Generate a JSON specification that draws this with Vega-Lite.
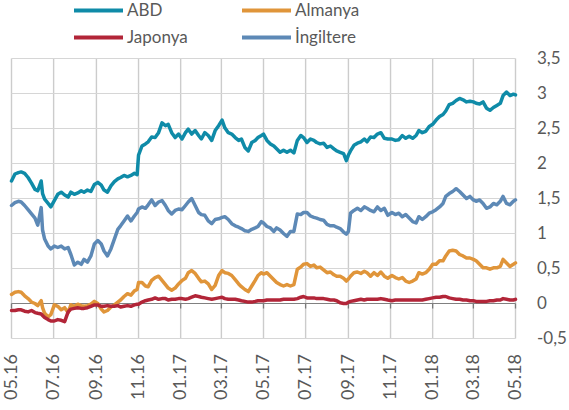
{
 "$schema": "https://vega.github.io/schema/vega-lite/v6.json",
 "width": 504,
 "height": 280,
 "autosize": {"type": "none"},
 "padding": {"left": 11.5, "top": 58.5, "right": 53.5, "bottom": 71.5},
 "background": "white",
 "config": {"view": {"stroke": null}, "font": "Lato",
  "locale": {"number": {"decimal": ",", "thousands": ".", "grouping": [3], "currency": ["", ""], "minus": "-"}}},
 "datasets": {
  "izgaraX": [{"t":"2016-05-10"},{"t":"2016-07-10"},{"t":"2016-09-10"},{"t":"2016-11-10"},{"t":"2017-01-10"},{"t":"2017-03-10"},{"t":"2017-05-10"},{"t":"2017-07-10"},{"t":"2017-09-10"},{"t":"2017-11-10"},{"t":"2018-01-10"},{"t":"2018-03-10"},{"t":"2018-05-10"}],
  "izgaraY": [{"g":-0.5},{"g":0},{"g":0.5},{"g":1},{"g":1.5},{"g":2},{"g":2.5},{"g":3},{"g":3.5}],
  "sifir": [{"g":0}],
  "seriler": [
  {"d":"2016-05-10","ABD":1.75,"Almanya":0.13,"Japonya":-0.10,"İngiltere":1.40},
  {"d":"2016-05-15","ABD":1.85,"Almanya":0.16,"Japonya":-0.10,"İngiltere":1.44},
  {"d":"2016-05-20","ABD":1.87,"Almanya":0.17,"Japonya":-0.09,"İngiltere":1.46},
  {"d":"2016-05-24","ABD":1.88,"Almanya":0.16,"Japonya":-0.09,"İngiltere":1.45},
  {"d":"2016-05-29","ABD":1.86,"Almanya":0.11,"Japonya":-0.11,"İngiltere":1.40},
  {"d":"2016-06-03","ABD":1.80,"Almanya":0.07,"Japonya":-0.12,"İngiltere":1.34},
  {"d":"2016-06-08","ABD":1.72,"Almanya":0.02,"Japonya":-0.10,"İngiltere":1.28},
  {"d":"2016-06-13","ABD":1.63,"Almanya":0.00,"Japonya":-0.13,"İngiltere":1.22},
  {"d":"2016-06-17","ABD":1.61,"Almanya":-0.03,"Japonya":-0.14,"İngiltere":1.12},
  {"d":"2016-06-22","ABD":1.75,"Almanya":0.04,"Japonya":-0.15,"İngiltere":1.37},
  {"d":"2016-06-24","ABD":1.57,"Almanya":-0.06,"Japonya":-0.17,"İngiltere":1.05},
  {"d":"2016-06-27","ABD":1.49,"Almanya":-0.14,"Japonya":-0.20,"İngiltere":0.92},
  {"d":"2016-07-02","ABD":1.43,"Almanya":-0.19,"Japonya":-0.23,"İngiltere":0.82},
  {"d":"2016-07-06","ABD":1.38,"Almanya":-0.16,"Japonya":-0.25,"İngiltere":0.78},
  {"d":"2016-07-11","ABD":1.47,"Almanya":-0.02,"Japonya":-0.25,"İngiltere":0.82},
  {"d":"2016-07-16","ABD":1.56,"Almanya":-0.04,"Japonya":-0.23,"İngiltere":0.80},
  {"d":"2016-07-21","ABD":1.59,"Almanya":-0.09,"Japonya":-0.24,"İngiltere":0.82},
  {"d":"2016-07-26","ABD":1.55,"Almanya":-0.06,"Japonya":-0.26,"İngiltere":0.78},
  {"d":"2016-07-31","ABD":1.52,"Almanya":-0.13,"Japonya":-0.12,"İngiltere":0.80},
  {"d":"2016-08-04","ABD":1.59,"Almanya":-0.02,"Japonya":-0.08,"İngiltere":0.70},
  {"d":"2016-08-09","ABD":1.56,"Almanya":-0.04,"Japonya":-0.07,"İngiltere":0.55},
  {"d":"2016-08-14","ABD":1.58,"Almanya":-0.01,"Japonya":-0.06,"İngiltere":0.59},
  {"d":"2016-08-19","ABD":1.61,"Almanya":-0.03,"Japonya":-0.07,"İngiltere":0.56},
  {"d":"2016-08-23","ABD":1.59,"Almanya":-0.04,"Japonya":-0.07,"İngiltere":0.63},
  {"d":"2016-08-28","ABD":1.62,"Almanya":-0.03,"Japonya":-0.06,"İngiltere":0.59},
  {"d":"2016-09-02","ABD":1.60,"Almanya":-0.01,"Japonya":-0.04,"İngiltere":0.68},
  {"d":"2016-09-07","ABD":1.70,"Almanya":0.03,"Japonya":-0.02,"İngiltere":0.85},
  {"d":"2016-09-12","ABD":1.73,"Almanya":0.00,"Japonya":-0.02,"İngiltere":0.90},
  {"d":"2016-09-17","ABD":1.69,"Almanya":-0.08,"Japonya":-0.04,"İngiltere":0.85},
  {"d":"2016-09-21","ABD":1.62,"Almanya":-0.12,"Japonya":-0.04,"İngiltere":0.75},
  {"d":"2016-09-26","ABD":1.59,"Almanya":-0.10,"Japonya":-0.03,"İngiltere":0.68},
  {"d":"2016-10-01","ABD":1.68,"Almanya":-0.05,"Japonya":-0.04,"İngiltere":0.78},
  {"d":"2016-10-06","ABD":1.74,"Almanya":-0.02,"Japonya":-0.04,"İngiltere":0.92},
  {"d":"2016-10-11","ABD":1.78,"Almanya":0.02,"Japonya":-0.03,"İngiltere":1.06},
  {"d":"2016-10-15","ABD":1.80,"Almanya":0.05,"Japonya":-0.05,"İngiltere":1.11},
  {"d":"2016-10-20","ABD":1.83,"Almanya":0.10,"Japonya":-0.04,"İngiltere":1.18},
  {"d":"2016-10-25","ABD":1.81,"Almanya":0.14,"Japonya":-0.03,"İngiltere":1.25},
  {"d":"2016-10-30","ABD":1.83,"Almanya":0.12,"Japonya":-0.04,"İngiltere":1.18},
  {"d":"2016-11-04","ABD":1.86,"Almanya":0.18,"Japonya":-0.02,"İngiltere":1.25},
  {"d":"2016-11-08","ABD":1.84,"Almanya":0.20,"Japonya":-0.01,"İngiltere":1.30},
  {"d":"2016-11-10","ABD":2.12,"Almanya":0.30,"Japonya":-0.01,"İngiltere":1.35},
  {"d":"2016-11-15","ABD":2.25,"Almanya":0.30,"Japonya":0.02,"İngiltere":1.38},
  {"d":"2016-11-20","ABD":2.28,"Almanya":0.25,"Japonya":0.04,"İngiltere":1.36},
  {"d":"2016-11-24","ABD":2.31,"Almanya":0.24,"Japonya":0.05,"İngiltere":1.41},
  {"d":"2016-11-29","ABD":2.38,"Almanya":0.33,"Japonya":0.06,"İngiltere":1.48},
  {"d":"2016-12-04","ABD":2.37,"Almanya":0.37,"Japonya":0.08,"İngiltere":1.40},
  {"d":"2016-12-09","ABD":2.44,"Almanya":0.39,"Japonya":0.06,"İngiltere":1.45},
  {"d":"2016-12-14","ABD":2.58,"Almanya":0.33,"Japonya":0.07,"İngiltere":1.47},
  {"d":"2016-12-19","ABD":2.54,"Almanya":0.27,"Japonya":0.07,"İngiltere":1.40},
  {"d":"2016-12-23","ABD":2.56,"Almanya":0.22,"Japonya":0.05,"İngiltere":1.33},
  {"d":"2016-12-28","ABD":2.44,"Almanya":0.19,"Japonya":0.06,"İngiltere":1.28},
  {"d":"2017-01-02","ABD":2.37,"Almanya":0.22,"Japonya":0.06,"İngiltere":1.33},
  {"d":"2017-01-07","ABD":2.42,"Almanya":0.28,"Japonya":0.07,"İngiltere":1.35},
  {"d":"2017-01-12","ABD":2.35,"Almanya":0.33,"Japonya":0.07,"İngiltere":1.34},
  {"d":"2017-01-17","ABD":2.44,"Almanya":0.36,"Japonya":0.06,"İngiltere":1.40},
  {"d":"2017-01-21","ABD":2.49,"Almanya":0.44,"Japonya":0.07,"İngiltere":1.45},
  {"d":"2017-01-26","ABD":2.42,"Almanya":0.47,"Japonya":0.09,"İngiltere":1.50},
  {"d":"2017-01-31","ABD":2.47,"Almanya":0.43,"Japonya":0.11,"İngiltere":1.40},
  {"d":"2017-02-05","ABD":2.40,"Almanya":0.36,"Japonya":0.10,"İngiltere":1.30},
  {"d":"2017-02-09","ABD":2.35,"Almanya":0.31,"Japonya":0.09,"İngiltere":1.27},
  {"d":"2017-02-14","ABD":2.44,"Almanya":0.32,"Japonya":0.08,"İngiltere":1.26},
  {"d":"2017-02-19","ABD":2.40,"Almanya":0.28,"Japonya":0.07,"İngiltere":1.18},
  {"d":"2017-02-24","ABD":2.33,"Almanya":0.20,"Japonya":0.06,"İngiltere":1.14},
  {"d":"2017-03-01","ABD":2.47,"Almanya":0.26,"Japonya":0.07,"İngiltere":1.20},
  {"d":"2017-03-06","ABD":2.54,"Almanya":0.40,"Japonya":0.08,"İngiltere":1.21},
  {"d":"2017-03-11","ABD":2.62,"Almanya":0.47,"Japonya":0.09,"İngiltere":1.23},
  {"d":"2017-03-15","ABD":2.51,"Almanya":0.44,"Japonya":0.07,"İngiltere":1.24},
  {"d":"2017-03-20","ABD":2.44,"Almanya":0.43,"Japonya":0.06,"İngiltere":1.20},
  {"d":"2017-03-25","ABD":2.42,"Almanya":0.40,"Japonya":0.06,"İngiltere":1.14},
  {"d":"2017-03-30","ABD":2.37,"Almanya":0.34,"Japonya":0.06,"İngiltere":1.11},
  {"d":"2017-04-04","ABD":2.33,"Almanya":0.28,"Japonya":0.05,"İngiltere":1.09},
  {"d":"2017-04-08","ABD":2.35,"Almanya":0.24,"Japonya":0.04,"İngiltere":1.07},
  {"d":"2017-04-13","ABD":2.23,"Almanya":0.20,"Japonya":0.03,"İngiltere":1.04},
  {"d":"2017-04-18","ABD":2.18,"Almanya":0.17,"Japonya":0.02,"İngiltere":1.03},
  {"d":"2017-04-23","ABD":2.30,"Almanya":0.25,"Japonya":0.02,"İngiltere":1.06},
  {"d":"2017-04-28","ABD":2.33,"Almanya":0.33,"Japonya":0.03,"İngiltere":1.08},
  {"d":"2017-05-02","ABD":2.37,"Almanya":0.40,"Japonya":0.04,"İngiltere":1.10},
  {"d":"2017-05-07","ABD":2.40,"Almanya":0.44,"Japonya":0.04,"İngiltere":1.17},
  {"d":"2017-05-10","ABD":2.42,"Almanya":0.42,"Japonya":0.04,"İngiltere":1.15},
  {"d":"2017-05-15","ABD":2.33,"Almanya":0.44,"Japonya":0.05,"İngiltere":1.10},
  {"d":"2017-05-20","ABD":2.28,"Almanya":0.39,"Japonya":0.05,"İngiltere":1.08},
  {"d":"2017-05-25","ABD":2.25,"Almanya":0.34,"Japonya":0.05,"İngiltere":1.03},
  {"d":"2017-05-29","ABD":2.21,"Almanya":0.30,"Japonya":0.05,"İngiltere":1.08},
  {"d":"2017-06-03","ABD":2.16,"Almanya":0.27,"Japonya":0.05,"İngiltere":1.05},
  {"d":"2017-06-08","ABD":2.19,"Almanya":0.25,"Japonya":0.06,"İngiltere":1.00},
  {"d":"2017-06-13","ABD":2.16,"Almanya":0.27,"Japonya":0.06,"İngiltere":0.96},
  {"d":"2017-06-18","ABD":2.19,"Almanya":0.25,"Japonya":0.06,"İngiltere":1.03},
  {"d":"2017-06-23","ABD":2.15,"Almanya":0.27,"Japonya":0.06,"İngiltere":1.03},
  {"d":"2017-06-28","ABD":2.33,"Almanya":0.49,"Japonya":0.07,"İngiltere":1.28},
  {"d":"2017-07-03","ABD":2.40,"Almanya":0.52,"Japonya":0.09,"İngiltere":1.27},
  {"d":"2017-07-07","ABD":2.37,"Almanya":0.56,"Japonya":0.10,"İngiltere":1.30},
  {"d":"2017-07-12","ABD":2.30,"Almanya":0.57,"Japonya":0.08,"İngiltere":1.30},
  {"d":"2017-07-17","ABD":2.35,"Almanya":0.53,"Japonya":0.08,"İngiltere":1.25},
  {"d":"2017-07-22","ABD":2.33,"Almanya":0.55,"Japonya":0.08,"İngiltere":1.23},
  {"d":"2017-07-26","ABD":2.30,"Almanya":0.51,"Japonya":0.07,"İngiltere":1.22},
  {"d":"2017-07-31","ABD":2.28,"Almanya":0.52,"Japonya":0.07,"İngiltere":1.20},
  {"d":"2017-08-05","ABD":2.29,"Almanya":0.48,"Japonya":0.07,"İngiltere":1.19},
  {"d":"2017-08-10","ABD":2.23,"Almanya":0.44,"Japonya":0.06,"İngiltere":1.13},
  {"d":"2017-08-15","ABD":2.25,"Almanya":0.45,"Japonya":0.05,"İngiltere":1.11},
  {"d":"2017-08-20","ABD":2.21,"Almanya":0.41,"Japonya":0.05,"İngiltere":1.11},
  {"d":"2017-08-24","ABD":2.18,"Almanya":0.39,"Japonya":0.04,"İngiltere":1.09},
  {"d":"2017-08-29","ABD":2.16,"Almanya":0.39,"Japonya":0.01,"İngiltere":1.07},
  {"d":"2017-09-03","ABD":2.14,"Almanya":0.36,"Japonya":0.00,"İngiltere":1.02},
  {"d":"2017-09-07","ABD":2.04,"Almanya":0.32,"Japonya":0.00,"İngiltere":0.99},
  {"d":"2017-09-10","ABD":2.12,"Almanya":0.35,"Japonya":0.02,"İngiltere":1.03},
  {"d":"2017-09-13","ABD":2.18,"Almanya":0.39,"Japonya":0.03,"İngiltere":1.29},
  {"d":"2017-09-18","ABD":2.26,"Almanya":0.44,"Japonya":0.04,"İngiltere":1.33},
  {"d":"2017-09-23","ABD":2.29,"Almanya":0.45,"Japonya":0.05,"İngiltere":1.36},
  {"d":"2017-09-28","ABD":2.31,"Almanya":0.43,"Japonya":0.06,"İngiltere":1.33},
  {"d":"2017-10-03","ABD":2.35,"Almanya":0.46,"Japonya":0.05,"İngiltere":1.38},
  {"d":"2017-10-07","ABD":2.31,"Almanya":0.44,"Japonya":0.06,"İngiltere":1.36},
  {"d":"2017-10-12","ABD":2.38,"Almanya":0.39,"Japonya":0.06,"İngiltere":1.33},
  {"d":"2017-10-17","ABD":2.37,"Almanya":0.44,"Japonya":0.06,"İngiltere":1.31},
  {"d":"2017-10-22","ABD":2.42,"Almanya":0.40,"Japonya":0.06,"İngiltere":1.38},
  {"d":"2017-10-27","ABD":2.44,"Almanya":0.45,"Japonya":0.07,"İngiltere":1.33},
  {"d":"2017-11-01","ABD":2.36,"Almanya":0.39,"Japonya":0.06,"İngiltere":1.36},
  {"d":"2017-11-06","ABD":2.35,"Almanya":0.36,"Japonya":0.05,"İngiltere":1.26},
  {"d":"2017-11-12","ABD":2.35,"Almanya":0.40,"Japonya":0.04,"İngiltere":1.30},
  {"d":"2017-11-17","ABD":2.33,"Almanya":0.37,"Japonya":0.05,"İngiltere":1.27},
  {"d":"2017-11-22","ABD":2.34,"Almanya":0.35,"Japonya":0.05,"İngiltere":1.29},
  {"d":"2017-11-27","ABD":2.40,"Almanya":0.37,"Japonya":0.05,"İngiltere":1.24},
  {"d":"2017-12-02","ABD":2.36,"Almanya":0.32,"Japonya":0.05,"İngiltere":1.27},
  {"d":"2017-12-07","ABD":2.39,"Almanya":0.30,"Japonya":0.05,"İngiltere":1.22},
  {"d":"2017-12-12","ABD":2.36,"Almanya":0.32,"Japonya":0.05,"İngiltere":1.17},
  {"d":"2017-12-17","ABD":2.40,"Almanya":0.35,"Japonya":0.05,"İngiltere":1.15},
  {"d":"2017-12-21","ABD":2.47,"Almanya":0.44,"Japonya":0.05,"İngiltere":1.24},
  {"d":"2017-12-26","ABD":2.44,"Almanya":0.42,"Japonya":0.05,"İngiltere":1.20},
  {"d":"2017-12-31","ABD":2.46,"Almanya":0.44,"Japonya":0.06,"İngiltere":1.24},
  {"d":"2018-01-05","ABD":2.53,"Almanya":0.49,"Japonya":0.07,"İngiltere":1.29},
  {"d":"2018-01-10","ABD":2.56,"Almanya":0.56,"Japonya":0.08,"İngiltere":1.31},
  {"d":"2018-01-15","ABD":2.62,"Almanya":0.56,"Japonya":0.09,"İngiltere":1.34},
  {"d":"2018-01-20","ABD":2.67,"Almanya":0.61,"Japonya":0.09,"İngiltere":1.38},
  {"d":"2018-01-25","ABD":2.70,"Almanya":0.61,"Japonya":0.10,"İngiltere":1.43},
  {"d":"2018-01-29","ABD":2.75,"Almanya":0.68,"Japonya":0.10,"İngiltere":1.53},
  {"d":"2018-02-03","ABD":2.84,"Almanya":0.75,"Japonya":0.08,"İngiltere":1.57},
  {"d":"2018-02-08","ABD":2.86,"Almanya":0.76,"Japonya":0.07,"İngiltere":1.60},
  {"d":"2018-02-13","ABD":2.90,"Almanya":0.75,"Japonya":0.06,"İngiltere":1.64},
  {"d":"2018-02-18","ABD":2.93,"Almanya":0.70,"Japonya":0.06,"İngiltere":1.60},
  {"d":"2018-02-23","ABD":2.91,"Almanya":0.68,"Japonya":0.05,"İngiltere":1.55},
  {"d":"2018-02-28","ABD":2.88,"Almanya":0.65,"Japonya":0.05,"İngiltere":1.50},
  {"d":"2018-03-05","ABD":2.89,"Almanya":0.65,"Japonya":0.04,"İngiltere":1.53},
  {"d":"2018-03-10","ABD":2.88,"Almanya":0.63,"Japonya":0.04,"İngiltere":1.48},
  {"d":"2018-03-14","ABD":2.86,"Almanya":0.61,"Japonya":0.03,"İngiltere":1.46},
  {"d":"2018-03-19","ABD":2.85,"Almanya":0.56,"Japonya":0.03,"İngiltere":1.48},
  {"d":"2018-03-24","ABD":2.88,"Almanya":0.51,"Japonya":0.03,"İngiltere":1.43},
  {"d":"2018-03-29","ABD":2.79,"Almanya":0.51,"Japonya":0.03,"İngiltere":1.36},
  {"d":"2018-04-03","ABD":2.76,"Almanya":0.49,"Japonya":0.04,"İngiltere":1.38},
  {"d":"2018-04-08","ABD":2.80,"Almanya":0.51,"Japonya":0.04,"İngiltere":1.43},
  {"d":"2018-04-13","ABD":2.83,"Almanya":0.51,"Japonya":0.05,"İngiltere":1.41},
  {"d":"2018-04-18","ABD":2.86,"Almanya":0.53,"Japonya":0.05,"İngiltere":1.46},
  {"d":"2018-04-22","ABD":2.97,"Almanya":0.63,"Japonya":0.07,"İngiltere":1.53},
  {"d":"2018-04-27","ABD":3.02,"Almanya":0.58,"Japonya":0.06,"İngiltere":1.43},
  {"d":"2018-05-02","ABD":2.97,"Almanya":0.53,"Japonya":0.05,"İngiltere":1.41},
  {"d":"2018-05-07","ABD":2.99,"Almanya":0.56,"Japonya":0.05,"İngiltere":1.46},
  {"d":"2018-05-10","ABD":2.98,"Almanya":0.58,"Japonya":0.06,"İngiltere":1.48}
 ]},
 "layer": [
  {
   "data": {"name": "izgaraX"},
   "mark": {"type": "rule", "color": "#cccccc", "strokeWidth": 1.4},
   "encoding": {
    "x": {"field": "t", "type": "temporal",
     "scale": {"type": "utc", "domain": [{"year": 2016, "month": 5, "date": 10, "utc": true}, {"year": 2018, "month": 5, "date": 10, "utc": true}]},
     "axis": {"title": null, "format": "%m.%y", "labelAngle": -90, "labelFontSize": 18, "labelColor": "#595959", "labelPadding": 15,
      "labelOverlap": false, "ticks": false, "domain": false, "grid": false,
      "values": [
       {"year": 2016, "month": 5, "date": 10, "utc": true}, {"year": 2016, "month": 7, "date": 10, "utc": true},
       {"year": 2016, "month": 9, "date": 10, "utc": true}, {"year": 2016, "month": 11, "date": 10, "utc": true},
       {"year": 2017, "month": 1, "date": 10, "utc": true}, {"year": 2017, "month": 3, "date": 10, "utc": true},
       {"year": 2017, "month": 5, "date": 10, "utc": true}, {"year": 2017, "month": 7, "date": 10, "utc": true},
       {"year": 2017, "month": 9, "date": 10, "utc": true}, {"year": 2017, "month": 11, "date": 10, "utc": true},
       {"year": 2018, "month": 1, "date": 10, "utc": true}, {"year": 2018, "month": 3, "date": 10, "utc": true},
       {"year": 2018, "month": 5, "date": 10, "utc": true}]}}
   }
  },
  {
   "data": {"name": "izgaraY"},
   "mark": {"type": "rule", "color": "#d6d6d6", "strokeWidth": 1.2},
   "encoding": {
    "y": {"field": "g", "type": "quantitative", "scale": {"domain": [-0.5, 3.5], "nice": false, "zero": false},
     "axis": {"title": null, "orient": "right", "values": [-0.5, 0, 0.5, 1, 1.5, 2, 2.5, 3, 3.5], "format": "~r",
      "labelFontSize": 17, "labelColor": "#595959", "labelOverlap": false, "labelPadding": 21,
      "ticks": false, "domain": false, "grid": false}}
   }
  },
  {
   "data": {"name": "izgaraX"},
   "mark": {"type": "tick", "orient": "vertical", "size": 5, "thickness": 1.3, "color": "#7a7a7a", "yOffset": 2.5, "opacity": 1},
   "encoding": {
    "x": {"field": "t", "type": "temporal",
     "axis": {"title": null, "format": "%m.%y", "labelAngle": -90, "labelFontSize": 18, "labelColor": "#595959", "labelPadding": 15,
      "labelOverlap": false, "ticks": false, "domain": false, "grid": false,
      "values": [
       {"year": 2016, "month": 5, "date": 10, "utc": true}, {"year": 2016, "month": 7, "date": 10, "utc": true},
       {"year": 2016, "month": 9, "date": 10, "utc": true}, {"year": 2016, "month": 11, "date": 10, "utc": true},
       {"year": 2017, "month": 1, "date": 10, "utc": true}, {"year": 2017, "month": 3, "date": 10, "utc": true},
       {"year": 2017, "month": 5, "date": 10, "utc": true}, {"year": 2017, "month": 7, "date": 10, "utc": true},
       {"year": 2017, "month": 9, "date": 10, "utc": true}, {"year": 2017, "month": 11, "date": 10, "utc": true},
       {"year": 2018, "month": 1, "date": 10, "utc": true}, {"year": 2018, "month": 3, "date": 10, "utc": true},
       {"year": 2018, "month": 5, "date": 10, "utc": true}]}},
    "y": {"datum": 0, "type": "quantitative",
     "axis": {"title": null, "orient": "right", "values": [-0.5, 0, 0.5, 1, 1.5, 2, 2.5, 3, 3.5], "format": "~r",
      "labelFontSize": 17, "labelColor": "#595959", "labelOverlap": false, "labelPadding": 21,
      "ticks": false, "domain": false, "grid": false}}
   }
  },
  {
   "data": {"name": "sifir"},
   "mark": {"type": "rule", "color": "#808080", "strokeWidth": 1},
   "encoding": {
    "y": {"field": "g", "type": "quantitative",
     "axis": {"title": null, "orient": "right", "values": [-0.5, 0, 0.5, 1, 1.5, 2, 2.5, 3, 3.5], "format": "~r",
      "labelFontSize": 17, "labelColor": "#595959", "labelOverlap": false, "labelPadding": 21,
      "ticks": false, "domain": false, "grid": false}}
   }
  },
  {
   "data": {"name": "seriler"},
   "transform": [{"fold": ["ABD", "Almanya", "Japonya", "İngiltere"], "as": ["seri", "deger"]}],
   "mark": {"type": "line", "strokeWidth": 3.5, "strokeJoin": "round", "strokeCap": "round"},
   "encoding": {
    "x": {"field": "d", "type": "temporal",
     "axis": {"title": null, "format": "%m.%y", "labelAngle": -90, "labelFontSize": 18, "labelColor": "#595959", "labelPadding": 15,
      "labelOverlap": false, "ticks": false, "domain": false, "grid": false,
      "values": [
       {"year": 2016, "month": 5, "date": 10, "utc": true}, {"year": 2016, "month": 7, "date": 10, "utc": true},
       {"year": 2016, "month": 9, "date": 10, "utc": true}, {"year": 2016, "month": 11, "date": 10, "utc": true},
       {"year": 2017, "month": 1, "date": 10, "utc": true}, {"year": 2017, "month": 3, "date": 10, "utc": true},
       {"year": 2017, "month": 5, "date": 10, "utc": true}, {"year": 2017, "month": 7, "date": 10, "utc": true},
       {"year": 2017, "month": 9, "date": 10, "utc": true}, {"year": 2017, "month": 11, "date": 10, "utc": true},
       {"year": 2018, "month": 1, "date": 10, "utc": true}, {"year": 2018, "month": 3, "date": 10, "utc": true},
       {"year": 2018, "month": 5, "date": 10, "utc": true}]}},
    "y": {"field": "deger", "type": "quantitative",
     "axis": {"title": null, "orient": "right", "values": [-0.5, 0, 0.5, 1, 1.5, 2, 2.5, 3, 3.5], "format": "~r",
      "labelFontSize": 17, "labelColor": "#595959", "labelOverlap": false, "labelPadding": 21,
      "ticks": false, "domain": false, "grid": false}},
    "color": {"field": "seri", "type": "nominal",
     "scale": {"domain": ["ABD", "Almanya", "Japonya", "İngiltere"], "range": ["#0f8ba8", "#e0953a", "#b22538", "#5d89b6"]},
     "legend": {"title": null, "orient": "none", "direction": "horizontal", "legendX": 60.5, "legendY": -58, "columns": 2, "symbolType": "stroke",
      "symbolSize": 2401, "symbolStrokeWidth": 4, "labelFontSize": 17, "labelColor": "#595959", "labelOffset": 2,
      "clipHeight": 20, "rowPadding": 7, "columnPadding": 52, "padding": 0, "offset": 0}}
   }
  }
 ]
}
